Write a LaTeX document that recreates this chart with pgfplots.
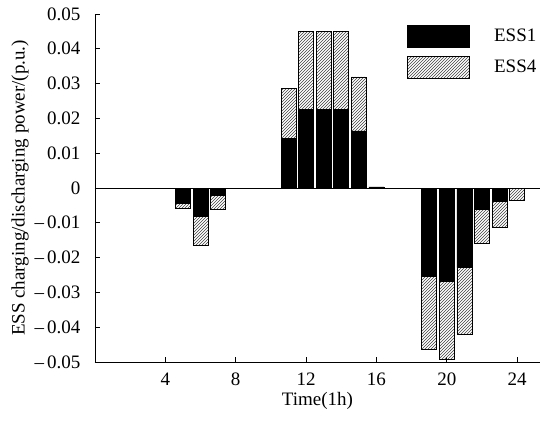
\documentclass[border=0pt]{standalone}
\usepackage{pgfplots}
\pgfplotsset{compat=1.18}
\usepackage{fontspec}
\setmainfont{Liberation Serif}
\usetikzlibrary{patterns}
\pgfplotsset{bigbox/.style={legend image code/.code={\draw[##1] (0pt,-11pt) rectangle (62pt,11pt);}}}
\pgfplotstableread{
h ess1 ess4
1 0 0
2 0 0
3 0 0
4 0 0
5 -0.0044 -0.0013
6 -0.0082 -0.0082
7 -0.0022 -0.0039
8 0 0
9 0 0
10 0 0
11 0.0142 0.0144
12 0.0226 0.0224
13 0.0226 0.0224
14 0.0226 0.0224
15 0.0164 0.0155
16 0.0003 0
17 0 0
18 0 0
19 -0.0254 -0.0210
20 -0.0267 -0.0225
21 -0.0229 -0.0190
22 -0.0061 -0.0097
23 -0.0038 -0.0075
24 0 -0.0036
}\data
\begin{document}
\fontsize{19}{22}\selectfont
\begin{tikzpicture}
\begin{axis}[
  scale only axis,
  width=445pt, height=348pt,
  ybar stacked,
  bar width=0.85,
  xmin=0, xmax=25.3,
  ymin=-0.05, ymax=0.05,
  axis lines=left,
  axis line style={-, black, line width=0.8pt},
  xtick={4,8,12,16,20,24},
  ytick={-0.05,-0.04,-0.03,-0.02,-0.01,0,0.01,0.02,0.03,0.04,0.05},
  yticklabels={–\,0.05,–\,0.04,–\,0.03,–\,0.02,–\,0.01,0,0.01,0.02,0.03,0.04,0.05},
  scaled y ticks=false,
  /pgf/number format/assume math mode=true,
  tick align=inside,
  major tick length=5pt,
  tick style={black, line width=0.8pt},
  tick label style={font=\fontsize{19}{22}\selectfont},
  yticklabel style={xshift=-8pt},
  xticklabel style={yshift=-4pt},
  label style={font=\fontsize{19}{22}\selectfont},
  extra y ticks={0},
  extra y tick labels={},
  extra y tick style={grid=major, major grid style={black, line width=0.8pt}, major tick length=0pt},
  xlabel={Time(1h)},
  ylabel={ESS charging/discharging power/(p.u.)},
  xlabel style={yshift=6pt},
  ylabel style={yshift=-7pt},
  legend style={draw=none, fill=none, at={(0.695,0.975)}, anchor=north west,
    font=\fontsize{19}{22}\selectfont, row sep=9pt,
    legend cell align=left},
  clip=false,
]
\addplot+[fill=black, draw=black, line width=0.6pt, bigbox]
  table[x=h, y=ess1] {\data};
\addlegendentry{\hspace{22pt}ESS1}
\addplot+[pattern=north east lines, pattern color=black!75, draw=black, line width=0.6pt, bigbox]
  table[x=h, y=ess4] {\data};
\addlegendentry{\hspace{22pt}ESS4}
\coordinate (bl) at (rel axis cs:0,0);
\coordinate (tr) at (rel axis cs:1,1);
\end{axis}
\pgfresetboundingbox
\path (bl) ++(-95pt,-58pt) coordinate (a);
\path (tr) ++(10pt,14pt) coordinate (b);
\path (a) rectangle (b);
\end{tikzpicture}
\end{document}
